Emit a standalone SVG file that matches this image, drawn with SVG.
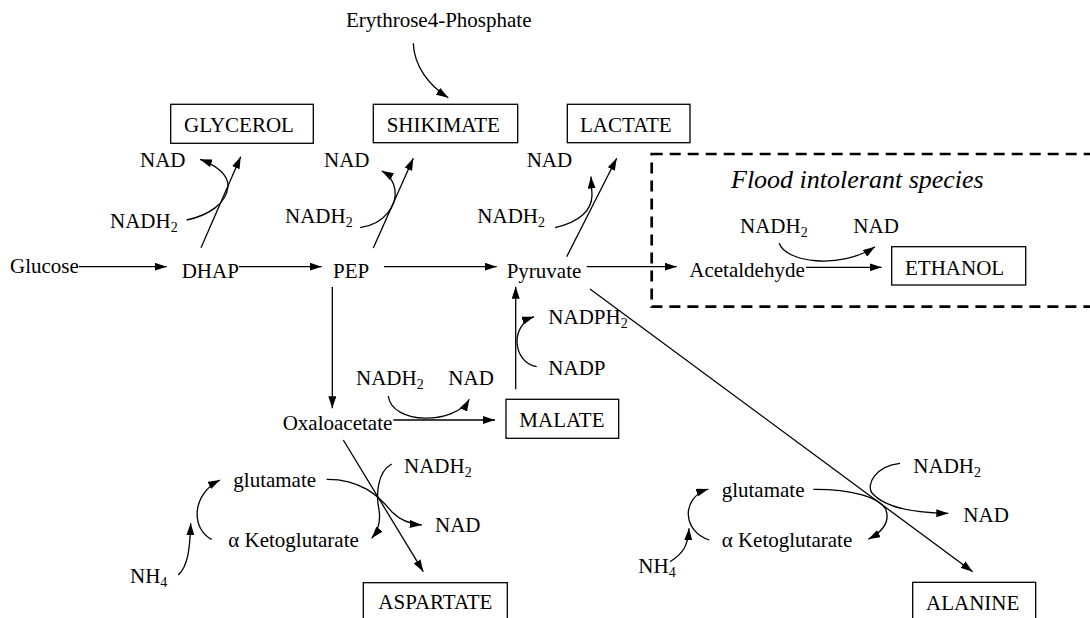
<svg xmlns="http://www.w3.org/2000/svg" width="1090" height="618" viewBox="0 0 1090 618" font-family="'Liberation Serif', 'DejaVu Serif', 'Noto Serif', serif">
<style>
text{font-family:'Liberation Serif','Times New Roman','DejaVu Serif','Noto Serif',serif;font-size:21px;fill:#000}
.sub{font-size:14px}
.it{font-style:italic;font-size:26px}
.box{fill:#fff;stroke:#000;stroke-width:1.3}
.ar{fill:none;stroke:#000;stroke-width:1.3;marker-end:url(#ah)}
.dash{fill:none;stroke:#000;stroke-width:2.7;stroke-dasharray:11 7}
</style>
<defs>
<marker id="ah" viewBox="0 0 12 8" refX="12" refY="4" markerWidth="12" markerHeight="8" markerUnits="userSpaceOnUse" orient="auto"><path d="M0,0 L12,4 L0,8 z" fill="#000"/></marker>
</defs>
<rect width="1090" height="618" fill="#fff"/>
<g id="region-flood-intolerant">
<rect class="dash" x="651.7" y="154" width="460" height="152.7"/>
<text class="it" x="731" y="188.3">Flood intolerant species</text>
</g>
<g id="connectors">
<path class="ar" d="M79,266.7 L166.7,266.7"/>
<path class="ar" d="M239,266.7 L321.7,266.7"/>
<path class="ar" d="M384,266.7 L496.7,266.7"/>
<path class="ar" d="M586.7,266.7 L676.7,266.7"/>
<path class="ar" d="M806,267.3 L881.7,267.3"/>
<path class="ar" d="M201,247.7 L240.7,156.7"/>
<path class="ar" d="M373.3,248 L413.3,158.3"/>
<path class="ar" d="M566.7,256.7 L616.7,158.3"/>
<path class="ar" d="M332.3,287 L332.3,408.3"/>
<path class="ar" d="M393.3,420 L495,420"/>
<path class="ar" d="M515.7,389.3 L515.7,286.7"/>
<path class="ar" d="M343.3,440 L423.3,571.7"/>
<path class="ar" d="M590,289 L972.7,571.7"/>
<path class="ar" d="M413.3,43.3 C414,65 428,85 448.3,97.7"/>
<path class="ar" d="M186.7,220 C210,215 226,203 228,187 C229,175 216,165 200,159.3"/>
<path class="ar" d="M360,227.7 C385,224 397,205 395,190 C394,182 389,175 381.7,170.7"/>
<path class="ar" d="M555,227.7 C580,222 592,210 592,195 L591,176.5"/>
<path class="ar" d="M779.3,243.3 C785,262 840,270 875,246.7"/>
<path class="ar" d="M536.7,366.7 C512,362 510,325 534,316.7"/>
<path class="ar" d="M388.3,396 C392,425 455,425 469.3,399.3"/>
<path class="ar" d="M326.7,479.3 C360,479 378,495 392,512 C400,520 410,524 421.7,525"/>
<path class="ar" d="M391.7,464 C377,472 376,495 379,510 C381,522 377,532 371.7,538.3"/>
<path class="ar" d="M813.3,489.3 C850,489 880,497 886,510 C890,522 882,532 868.3,539.3"/>
<path class="ar" d="M900,463.3 C875,466 866,485 872,493 C885,508 915,513 948.3,513.3"/>
<path class="ar" d="M211.7,539.3 C192,530 190,495 220,480"/>
<path class="ar" d="M178.3,575 C188,566 190,548 190.7,523.3"/>
<path class="ar" d="M709.3,540 C683,532 680,498 708.3,489"/>
<path class="ar" d="M670,561.7 C684,553 688,545 689,528.3"/>
</g>
<g id="node-erythrose"><text x="346" y="27">Erythrose4-Phosphate</text></g>
<g id="node-glycerol"><rect class="box" x="170.7" y="104.3" width="142.6" height="39"/><text x="184" y="132">GLYCEROL</text></g>
<g id="node-shikimate"><rect class="box" x="373.3" y="104.3" width="144.4" height="38.4"/><text x="386.7" y="132">SHIKIMATE</text></g>
<g id="node-lactate"><rect class="box" x="567.3" y="104.3" width="122.7" height="38.4"/><text x="580" y="132">LACTATE</text></g>
<g id="node-nad-1"><text x="140" y="166.7">NAD</text></g>
<g id="node-nadh2-1"><text x="110" y="227.7">NADH<tspan class="sub" dy="4">2</tspan></text></g>
<g id="node-nad-2"><text x="324" y="166.7">NAD</text></g>
<g id="node-nadh2-2"><text x="285" y="222.7">NADH<tspan class="sub" dy="4">2</tspan></text></g>
<g id="node-nad-3"><text x="526.7" y="166.7">NAD</text></g>
<g id="node-nadh2-3"><text x="477.3" y="223.3">NADH<tspan class="sub" dy="4">2</tspan></text></g>
<g id="node-glucose"><text x="10" y="273">Glucose</text></g>
<g id="node-dhap"><text x="181.7" y="277.7">DHAP</text></g>
<g id="node-pep"><text x="333" y="278">PEP</text></g>
<g id="node-pyruvate"><text x="506.7" y="277.7">Pyruvate</text></g>
<g id="node-acetaldehyde"><text x="689.3" y="276.7">Acetaldehyde</text></g>
<g id="node-nadh2-4"><text x="740" y="233.3">NADH<tspan class="sub" dy="4">2</tspan></text></g>
<g id="node-nad-4"><text x="853.3" y="233.3">NAD</text></g>
<g id="node-ethanol"><rect class="box" x="891.7" y="246.7" width="134" height="38.3"/><text x="905" y="275">ETHANOL</text></g>
<g id="node-nadph2"><text x="548.3" y="324">NADPH<tspan class="sub" dy="4">2</tspan></text></g>
<g id="node-nadp"><text x="548.3" y="375">NADP</text></g>
<g id="node-nadh2-5"><text x="356" y="385">NADH<tspan class="sub" dy="4">2</tspan></text></g>
<g id="node-nad-5"><text x="448.3" y="385">NAD</text></g>
<g id="node-oxaloacetate"><text x="282.7" y="430">Oxaloacetate</text></g>
<g id="node-malate"><rect class="box" x="506" y="399.3" width="112.7" height="39"/><text x="519.3" y="426.7">MALATE</text></g>
<g id="node-glutamate-1"><text x="233.3" y="486.7">glutamate</text></g>
<g id="node-akg-1"><text x="228.3" y="546.7">α Ketoglutarate</text></g>
<g id="node-nh4-1"><text x="130" y="583.3">NH<tspan class="sub" dy="4">4</tspan></text></g>
<g id="node-nadh2-6"><text x="404" y="472.7">NADH<tspan class="sub" dy="4">2</tspan></text></g>
<g id="node-nad-6"><text x="435" y="531.7">NAD</text></g>
<g id="node-aspartate"><rect class="box" x="363.3" y="582.7" width="144" height="45"/><text x="378.3" y="609">ASPARTATE</text></g>
<g id="node-glutamate-2"><text x="721.7" y="496.7">glutamate</text></g>
<g id="node-akg-2"><text x="721.7" y="546.7">α Ketoglutarate</text></g>
<g id="node-nh4-2"><text x="638.3" y="573.3">NH<tspan class="sub" dy="4">4</tspan></text></g>
<g id="node-nadh2-7"><text x="913.3" y="472.7">NADH<tspan class="sub" dy="4">2</tspan></text></g>
<g id="node-nad-7"><text x="963.3" y="521.7">NAD</text></g>
<g id="node-alanine"><rect class="box" x="912.7" y="582.3" width="123" height="45"/><text x="926" y="610">ALANINE</text></g>
</svg>
